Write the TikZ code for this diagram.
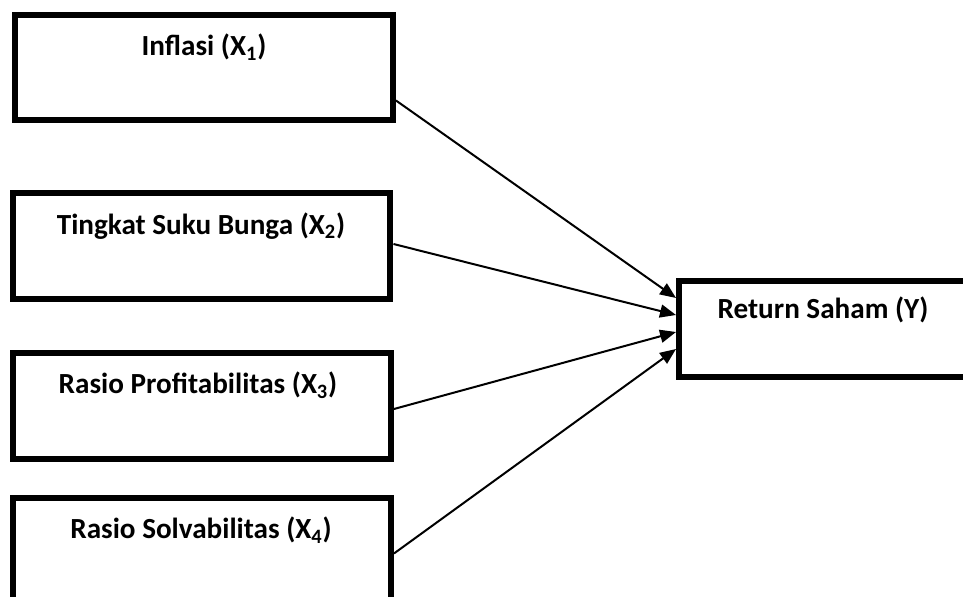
\documentclass[tikz,border=0pt]{standalone}
\usepackage{fontspec}
\setmainfont{Carlito}
\usetikzlibrary{arrows.meta,calc}
\begin{document}
\begin{tikzpicture}[x=0.02cm, y=-0.02cm, >={Triangle[length=0.32cm,width=0.26cm]},
var box/.style={draw, line width=0.12cm, minimum width=7.56cm, minimum height=2.12cm, inner sep=0pt},
res box/.style={draw, line width=0.12cm, minimum width=5.76cm, minimum height=1.92cm, inner sep=0pt},
box text/.style={font=\fontsize{16.6}{19}\selectfont\bfseries, inner sep=0pt},
link/.style={->, line width=0.04cm}]
\clip (0,0) rectangle (963,597);
\fill[white] (0,0) rectangle (963,597);
\begin{scope}
\node[var box] (x1) at (204,67.5) {};%X1
\node[var box] (x2) at (201.5,246) {};%X2
\node[var box] (x3) at (202,406) {};%X3
\node[var box] (x4) at (202,550.5) {};%X4
\node[res box] (ret) at (823,329) {};%Y
\end{scope}
\begin{scope}[every node/.style={box text}]
\node (t1) at (204,47) {Inflasi (X\textsubscript{1})};
\node (t2) at (201,226) {Tingkat Suku Bunga (X\textsubscript{2})};
\node (t3) at (198,385) {Rasio Profitabilitas (X\textsubscript{3})};
\node (t4) at (201,530) {Rasio Solvabilitas (X\textsubscript{4})};
\node (ty) at (823,310) {Return Saham (Y)};
\end{scope}
\begin{scope}
\draw[link] ($(x1.east)+(0,33)$) -- ($(ret.west)+(0,-31)$);
\draw[link] ($(x2.east)+(0,-2)$) -- ($(ret.west)+(0,-14)$);
\draw[link] ($(x3.east)+(0,3)$) -- ($(ret.west)+(0,3)$);
\draw[link] ($(x4.east)+(0,3)$) -- ($(ret.west)+(0,20)$);
%\draw[link] (x) -- (ret);
\end{scope}
\end{tikzpicture}
\end{document}
